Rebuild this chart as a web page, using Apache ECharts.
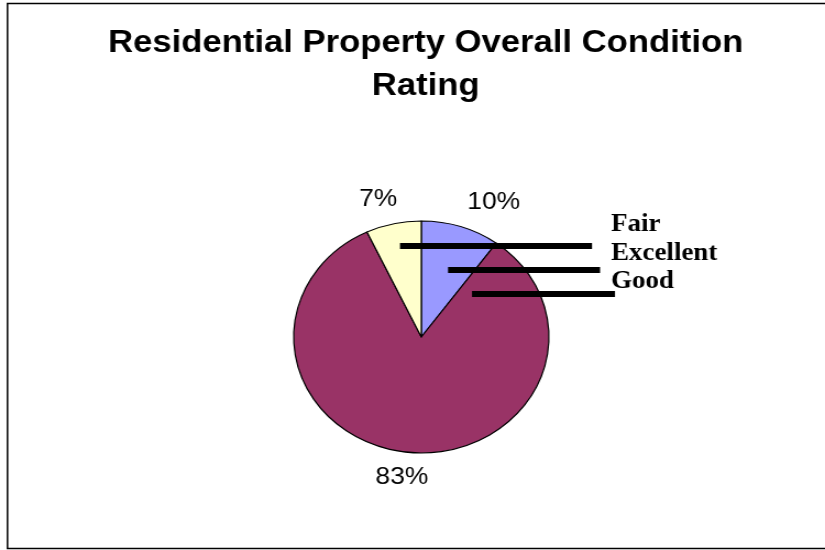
<!DOCTYPE html>
<html>
<head>
<meta charset="utf-8">
<script src="https://cdn.jsdelivr.net/npm/echarts@6/dist/echarts.min.js"></script>
<style>
  html, body { margin: 0; padding: 0; background: #fff; overflow: hidden; }
  #wrap { width: 825px; height: 550px; overflow: hidden; position: relative; }
  #chart { width: 750px; height: 550px; transform: scaleX(1.1); transform-origin: 0 0; }
</style>
</head>
<body>
<div id="wrap"><div id="chart"></div></div>
<script>
const titleText = 'Residential Property Overall Condition\nRating';
const categories = ['Excellent', 'Good', 'Fair'];
const values = [10, 83, 7];
const sliceColors = ['#9999FF', '#993366', '#FFFFCC'];
const legendOrder = ['Fair', 'Excellent', 'Good'];
const labelDistances = [-1.9, -19.7, -9];

const chart = echarts.init(document.getElementById('chart'), null, { renderer: 'canvas' });

const option = {
  backgroundColor: 'transparent',
  animation: false,
  title: {
    text: titleText,
    left: 387,
    textAlign: 'center',
    top: 21.5,
    padding: 0,
    textStyle: {
      fontFamily: 'Liberation Sans, Arial, sans-serif',
      fontSize: 31.5,
      fontWeight: 'bold',
      color: '#000',
      lineHeight: 43
    }
  },
  legend: {
    orient: 'vertical',
    data: legendOrder,
    left: 550.5,
    top: 211,
    padding: 0,
    itemGap: 0,
    itemWidth: 0,
    itemHeight: 28,
    icon: 'none',
    selectedMode: false,
    textStyle: {
      fontFamily: 'Liberation Serif, Times New Roman, serif',
      fontSize: 24.5,
      fontWeight: 'bold',
      color: '#000',
      lineHeight: 28.3
    }
  },
  series: [{
    type: 'pie',
    center: [383, 337],
    radius: 116,
    startAngle: 90,
    clockwise: true,
    avoidLabelOverlap: false,
    silent: true,
    itemStyle: { borderColor: '#000', borderWidth: 1.2 },
    label: {
      show: true,
      position: 'outside',
      formatter: '{d}%',
      fontFamily: 'Liberation Sans, Arial, sans-serif',
      fontSize: 24,
      color: '#000'
    },
    labelLine: { show: false, length: 25.5, length2: 0 },
    data: categories.map((name, i) => ({
      name: name,
      value: values[i],
      itemStyle: { color: sliceColors[i] },
      label: { distanceToLabelLine: labelDistances[i] }
    }))
  }],
  graphic: [
    {
      type: 'rect',
      z: 0,
      shape: { x: 6.8, y: 3.5, width: 900, height: 545 },
      style: { fill: 'none', stroke: '#000', lineWidth: 1.5 }
    },
    {
      type: 'line', z: 100,
      shape: { x1: 363.6, y1: 246, x2: 538.2, y2: 246 },
      style: { stroke: '#000', lineWidth: 6 }
    },
    {
      type: 'line', z: 100,
      shape: { x1: 407.3, y1: 270, x2: 545.5, y2: 270 },
      style: { stroke: '#000', lineWidth: 6 }
    },
    {
      type: 'line', z: 100,
      shape: { x1: 429.1, y1: 294, x2: 559.1, y2: 294 },
      style: { stroke: '#000', lineWidth: 6 }
    }
  ]
};
chart.setOption(option);
</script>
</body>
</html>
